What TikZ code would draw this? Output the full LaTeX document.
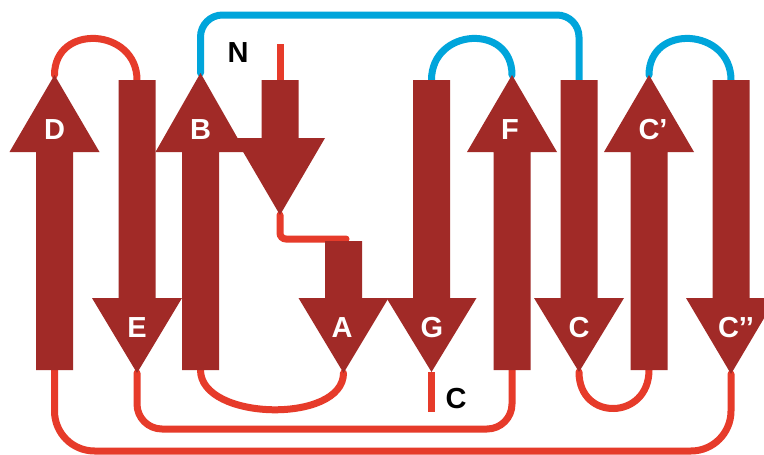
\documentclass[tikz,border=0pt]{standalone}
\usepackage{fontspec}
\setmainfont{Liberation Sans}
\usetikzlibrary{calc}

\definecolor{strandred}{HTML}{A12A27}
\definecolor{loopred}{HTML}{E63B2A}
\definecolor{loopblue}{HTML}{00A5DB}

\tikzset{
  strand/.style={fill=strandred},
  redloop/.style={draw=loopred, line width=7pt, line cap=round},
  blueloop/.style={draw=loopblue, line width=7pt, line cap=round},
  strandlabel/.style={text=white, font=\fontsize{29}{29}\selectfont\bfseries, inner sep=0pt},
  termlabel/.style={text=black, font=\fontsize{29}{29}\selectfont\bfseries, inner sep=0pt}
}

% upward strand: name, centre x, bottom y, head base y, tip y
\newcommand\strandup[5]{%
  \fill[strand] ({#2-18.5},#3) -- ({#2-18.5},#4) -- ({#2-45},#4) -- (#2,#5)
    -- ({#2+45},#4) -- ({#2+18.5},#4) -- ({#2+18.5},#3) -- cycle;
  \coordinate (#1-end) at (#2,#3);
  \coordinate (#1-tip) at (#2,#5);}
% downward strand: name, centre x, top y, head base y, tip y
\newcommand\stranddown[5]{%
  \fill[strand] ({#2-18.5},#3) -- ({#2-18.5},#4) -- ({#2-45},#4) -- (#2,#5)
    -- ({#2+45},#4) -- ({#2+18.5},#4) -- ({#2+18.5},#3) -- cycle;
  \coordinate (#1-top) at (#2,#3);
  \coordinate (#1-tip) at (#2,#5);}

\begin{document}
\begin{tikzpicture}[x=1pt, y=-1pt]
\useasboundingbox (0,0) rectangle (764,455);
\clip (0,0) rectangle (764,455);
\fill[white] (0,0) rectangle (764,455);

% anchor points of the strands (set before the loops are drawn)
\path
  coordinate (D-tip) at (54.5,75)   coordinate (D-end) at (54.5,370)
  coordinate (E-top) at (137,80)    coordinate (E-tip) at (137,373)
  coordinate (B-tip) at (200.5,73)  coordinate (B-end) at (200.5,370)
  coordinate (A1-top) at (280,80)   coordinate (A1-tip) at (280,215)
  coordinate (A-top) at (343.5,241) coordinate (A-tip) at (343.5,373)
  coordinate (G-top) at (431.5,80)  coordinate (G-tip) at (431.5,372)
  coordinate (F-tip) at (512,75)    coordinate (F-end) at (512,370)
  coordinate (C-top) at (579,80)    coordinate (C-tip) at (579,372)
  coordinate (Cp-tip) at (649,75)   coordinate (Cp-end) at (649,370)
  coordinate (Cpp-top) at (731,80)  coordinate (Cpp-tip) at (731,374);

% lanes and termini of the loops
\coordinate (N-end) at (280,44);
\coordinate (C-end) at (431.5,412);
\coordinate (top-lane) at (400,15);
\coordinate (low-lane) at (300,429);
\coordinate (bottom-lane) at (300,451);
\coordinate (A-in) at (346,239);

% loops
\draw[redloop] (D-tip) .. controls +(0,-52) and +(0,-52) .. (E-top);
\draw[blueloop, rounded corners=22] (B-tip) |- (top-lane) -| (C-top);
\draw[blueloop] (G-top) .. controls +(0,-52) and +(0,-52) .. (F-tip);
\draw[blueloop] (Cp-tip) .. controls +(0,-52) and +(0,-52) .. (Cpp-top);
\draw[redloop] (B-end) .. controls +(0,51) and +(0,51) .. (A-tip);
\draw[redloop] (C-tip) .. controls +(0,50) and +(0,50) .. (Cp-end);
\draw[redloop, rounded corners=25] (E-tip) |- (low-lane) -| (F-end);
\draw[redloop, rounded corners=40] (D-end) |- (bottom-lane) -| (Cpp-tip);
\draw[redloop, line cap=butt] (N-end) -- (A1-top);
\draw[redloop, rounded corners=6] (A1-tip) |- (A-in);
\draw[redloop, line cap=butt] (G-tip) -- (C-end);

% strands
\strandup{D}{54.5}{370}{152}{75}
\stranddown{E}{137}{80}{298}{373}
\strandup{B}{200.5}{370}{152}{73}
\stranddown{A1}{280}{80}{138}{215}
\stranddown{A}{343.5}{241}{298}{373}
\stranddown{G}{431.5}{80}{298}{372}
\strandup{F}{512}{370}{152}{75}
\stranddown{C}{579}{80}{298}{372}
\strandup{Cp}{649}{370}{152}{75}
\stranddown{Cpp}{731}{80}{298}{374}

% labels
\node[strandlabel] (lD) at (54.5,130) {D};
\node[strandlabel] (lB) at (200.5,130) {B};
\node[strandlabel] (lF) at (510,130) {F};
\node[strandlabel] (lCp) at (653,130) {C’};
\node[strandlabel] (lE) at (137,328) {E};
\node[strandlabel] (lA) at (342,328) {A};
\node[strandlabel] (lG) at (432,328) {G};
\node[strandlabel] (lC) at (579,328) {C};
\node[strandlabel] (lCpp) at (736,328) {C’’};
\node[termlabel] (lN) at (238,53) {N};
\node[termlabel] (lCterm) at (456,399) {C};
\end{tikzpicture}
\end{document}
